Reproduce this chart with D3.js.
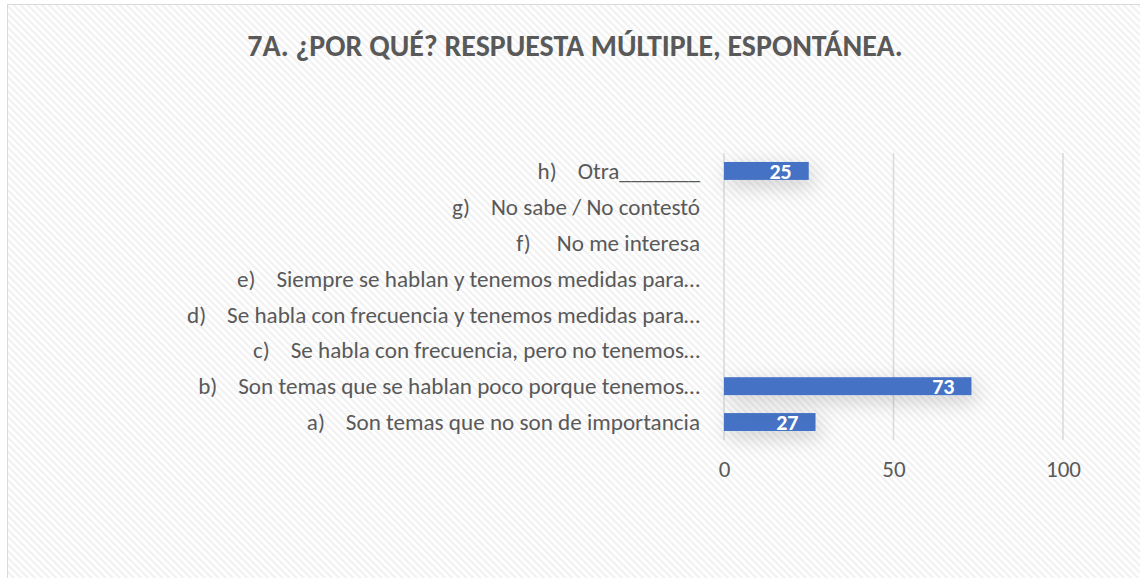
<!DOCTYPE html>
<html>
<head>
<meta charset="utf-8">
<script src="https://cdn.jsdelivr.net/npm/d3@7"></script>
<style>
  body { margin: 0; background: #fff; }
  text { font-family: Carlito, "Open Sans", "Noto Sans", sans-serif; white-space: pre; }
</style>
</head>
<body>
<script>
// Chart data
let chartTitle = "7A. ¿POR QUÉ? RESPUESTA MÚLTIPLE, ESPONTÁNEA.";
let categories = [
    "a)    Son temas que no son de importancia",
    "b)    Son temas que se hablan poco porque tenemos…",
    "c)    Se habla con frecuencia, pero no tenemos…",
    "d)    Se habla con frecuencia y tenemos medidas para…",
    "e)    Siempre se hablan y tenemos medidas para…",
    "f)     No me interesa",
    "g)    No sabe / No contestó",
    "h)    Otra_______"
];
let values = [27, 73, 0, 0, 0, 0, 0, 25];
let tickValues = [0, 50, 100];

let svgWidth = 1140;
let svgHeight = 578;

let svg = d3.select("body")
    .append("svg")
    .attr("width", svgWidth)
    .attr("height", svgHeight);

let defs = svg.append("defs");

// Diagonal hatch background
let pattern = defs.append("pattern")
    .attr("id", "hatch")
    .attr("patternUnits", "userSpaceOnUse")
    .attr("width", 5)
    .attr("height", 5)
    .attr("patternTransform", "rotate(-45)");
pattern.append("rect").attr("width", 5).attr("height", 5).attr("fill", "#ffffff");
pattern.append("rect").attr("x", 0).attr("width", 2.2).attr("height", 5).attr("fill", "#f1f1f1");

// Soft shadow behind bars
let shadow = defs.append("filter")
    .attr("id", "shadow")
    .attr("x", "-40%").attr("y", "-150%")
    .attr("width", "180%").attr("height", "500%");
shadow.append("feDropShadow")
    .attr("dx", 4).attr("dy", 6)
    .attr("stdDeviation", 10)
    .attr("flood-color", "#000")
    .attr("flood-opacity", 0.18);

svg.append("rect")
    .attr("x", 7.5).attr("y", 4.5)
    .attr("width", svgWidth).attr("height", svgHeight)
    .attr("fill", "url(#hatch)")
    .attr("stroke", "#d9d9d9");

// Title
let title = svg.append("text")
    .attr("x", 575)
    .attr("y", 56)
    .attr("text-anchor", "middle")
    .attr("font-size", 24)
    .attr("font-weight", "bold")
    .attr("fill", "#595959")
    .text(chartTitle);
let tw = title.node().getComputedTextLength();
title.attr("font-size", 24 * 656 / tw);

// Scales
let xScale = d3.scaleLinear()
    .domain([0, 100])
    .range([724, 1063]);

let yScale = d3.scaleBand()
    .domain(categories.slice().reverse())
    .range([153, 440])
    .paddingInner(0.5)
    .paddingOuter(0.25);

// Gridlines
svg.append("g")
    .selectAll("line")
    .data(tickValues)
    .enter()
    .append("line")
    .attr("x1", d => xScale(d))
    .attr("x2", d => xScale(d))
    .attr("y1", 153)
    .attr("y2", 440)
    .attr("stroke", "#d9d9d9")
    .attr("stroke-width", 1.5);

// X axis labels
let xAxis = d3.axisBottom(xScale)
    .tickValues(tickValues)
    .tickSize(0)
    .tickPadding(0);
let xg = svg.append("g")
    .attr("transform", "translate(0, 461)")
    .call(xAxis);
xg.select(".domain").remove();
xg.attr("font-size", 23).attr("font-family", null);
xg.selectAll("text")
    .attr("fill", "#595959");

// Category labels
let labels = svg.append("g")
    .selectAll("text")
    .data(categories)
    .enter()
    .append("text")
    .attr("x", 700)
    .attr("y", d => yScale(d) + yScale.bandwidth() / 2)
    .attr("dy", "0.35em")
    .attr("text-anchor", "end")
    .attr("font-size", 20)
    .attr("fill", "#595959")
    .text(d => d);
let lw = labels.filter((d, i) => i === 1).node().getComputedTextLength();
labels.attr("font-size", 20 * 502 / lw);

// Bars
let data = categories.map((c, i) => ({ cat: c, value: values[i] }));
svg.append("g")
    .selectAll("rect")
    .data(data.filter(d => d.value > 0))
    .enter()
    .append("rect")
    .attr("x", xScale(0))
    .attr("y", d => yScale(d.cat))
    .attr("width", d => xScale(d.value) - xScale(0))
    .attr("height", yScale.bandwidth())
    .attr("fill", "#4472c4")
    .attr("filter", "url(#shadow)");

// Value labels inside end
svg.append("g")
    .selectAll("text")
    .data(data.filter(d => d.value > 0))
    .enter()
    .append("text")
    .attr("x", d => xScale(d.value) - 17)
    .attr("y", d => yScale(d.cat) + yScale.bandwidth() / 2)
    .attr("dy", "0.36em")
    .attr("text-anchor", "end")
    .attr("font-size", 22)
    .attr("font-weight", "bold")
    .attr("fill", "#ffffff")
    .text(d => d.value);
</script>
</body>
</html>
